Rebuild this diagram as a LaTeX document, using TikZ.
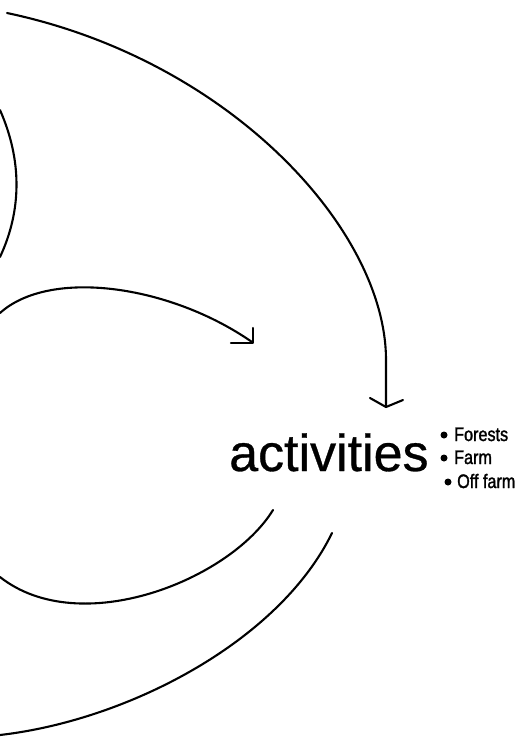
\documentclass[tikz,border=0pt]{standalone}
\usepackage{fontspec}
\setmainfont{Liberation Sans}
\newfontfamily\bigfont[FakeBold=0.6]{Liberation Sans}
\newfontfamily\narrowfont[FakeStretch=0.83,FakeBold=1.5]{Liberation Sans}
\begin{document}
\begin{tikzpicture}[x=1pt,y=-1pt,
  stroke/.style={line width=2.1pt,line cap=round,line join=round},
  bigword/.style={anchor=base west,inner sep=0pt,font=\bigfont\fontsize{52}{52}\selectfont},
  itemtext/.style={anchor=base west,inner sep=0pt,font=\narrowfont\fontsize{19.5}{20}\selectfont},
  dot/.style={circle,fill=black,inner sep=0pt,minimum size=7pt}]
\useasboundingbox (0,0) rectangle (532,737);
% coordinates
\coordinate (bigS) at (7,13);
\coordinate (bigE) at (386,407);
\coordinate (leftS) at (0,110);
\coordinate (leftE) at (0,257);
\coordinate (midS) at (0,313);
\coordinate (midE) at (252,342);
\coordinate (lowS) at (273,510);
\coordinate (lowE) at (0,577);
\coordinate (outS) at (332,533);
\coordinate (outE) at (0,735);
% big outer arc with arrow
\draw[stroke] (bigS) .. controls (230,60) and (386,230) .. (386,360) -- (bigE);
\draw[stroke] (370,398) -- (bigE) -- (403,400);
% left partial arc
\draw[stroke] (leftS) .. controls (22,160) and (22,210) .. (leftE);
% middle arrow
\draw[stroke] (midS) .. controls (50,268) and (170,285) .. (midE);
\draw[stroke] (231,343) -- (253,343) -- (253,328);
% lower arcs
\draw[stroke] (lowS) .. controls (230,580) and (80,640) .. (lowE);
\draw[stroke] (outS) .. controls (280,640) and (130,720) .. (outE);
% text
\node[bigword] (act) at (229,471) {activities};
\node[dot] (b1) at (444,435) {};
\node[dot] (b2) at (444,458) {};
\node[dot] (b3) at (448,482) {};
\node[itemtext] (t1) at (454,441) {Forests};
\node[itemtext] (t2) at (454,464) {Farm};
\node[itemtext] (t3) at (457,488) {Off farm};
\end{tikzpicture}
\end{document}
